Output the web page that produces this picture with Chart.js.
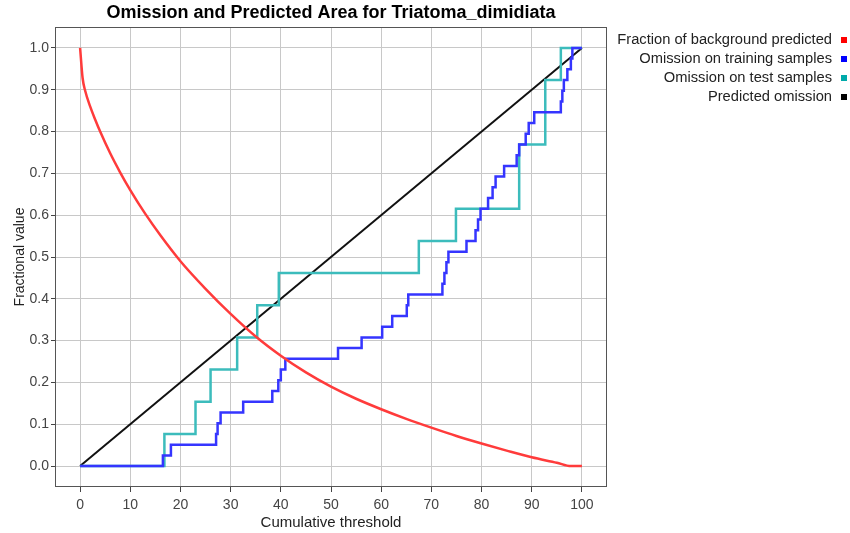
<!DOCTYPE html>
<html>
<head>
<meta charset="utf-8">
<script src="https://cdn.jsdelivr.net/npm/chart.js@4/dist/chart.umd.min.js"></script>
<style>
  html, body { margin: 0; padding: 0; background: #fff; }
  #wrap { width: 850px; height: 533px; }
</style>
</head>
<body>
<div id="wrap"><canvas id="omissionChart" width="850" height="533"></canvas></div>
<script>
// Axis ticks
const xTicks = [0, 10, 20, 30, 40, 50, 60, 70, 80, 90, 100];
const yTicks = [0.0, 0.1, 0.2, 0.3, 0.4, 0.5, 0.6, 0.7, 0.8, 0.9, 1.0];

// Fraction of background predicted
const bgThreshold = [0, 0.5, 1, 2, 3, 4, 6, 8, 10, 13, 16, 20, 25, 30, 35, 40, 45, 50, 55, 60, 65, 70, 75, 80, 85, 90, 95, 97.8, 100];
const bgFraction = [1.0, 0.928, 0.898, 0.860, 0.829, 0.800, 0.748, 0.702, 0.660, 0.603, 0.552, 0.490, 0.424, 0.364, 0.310, 0.264, 0.224, 0.190, 0.161, 0.136, 0.113, 0.092, 0.072, 0.054, 0.037, 0.021, 0.008, 0.0, 0.0];

// Omission on training samples
const trainThreshold = [0, 16.5, 18.1, 27.1, 27.4, 28.0, 32.5, 38.3, 39.5, 40.0, 40.9, 51.4, 56.1, 60.2, 62.2, 65.1, 65.4, 72.2, 72.6, 73.0, 73.4, 77.0, 78.8, 79.3, 79.8, 81.3, 82.2, 82.8, 84.5, 87.0, 87.5, 88.8, 89.4, 90.5, 95.8, 96.1, 96.4, 97.1, 97.8, 98.1, 100];
const trainOmission = [0, 0.0256, 0.0513, 0.0769, 0.1026, 0.1282, 0.1538, 0.1795, 0.2051, 0.2308, 0.2564, 0.2821, 0.3077, 0.3333, 0.3590, 0.3846, 0.4103, 0.4359, 0.4615, 0.4872, 0.5128, 0.5385, 0.5641, 0.5897, 0.6154, 0.6410, 0.6667, 0.6923, 0.7179, 0.7436, 0.7692, 0.7949, 0.8205, 0.8462, 0.8718, 0.8974, 0.9231, 0.9487, 0.9744, 1.0, 1.0];

// Omission on test samples
const testThreshold = [0, 16.8, 23.0, 26.0, 31.3, 35.3, 39.6, 67.5, 74.9, 87.5, 92.7, 95.8, 100];
const testOmission = [0, 0.0769, 0.1538, 0.2308, 0.3077, 0.3846, 0.4615, 0.5385, 0.6154, 0.7692, 0.9231, 1.0, 1.0];

// Predicted omission
const predThreshold = [0, 100];
const predOmission = [0, 1];

const FONT = '"Liberation Sans", Arial, sans-serif';

function toPoints(xs, ys) {
  return xs.map((x, i) => ({ x: x, y: ys[i] }));
}

// Legend on the right: text right-aligned, colour square after it
const sideLegend = {
  id: 'sideLegend',
  afterDraw(chart) {
    const ctx = chart.ctx;
    ctx.save();
    ctx.font = '14.7px ' + FONT;
    ctx.textAlign = 'right';
    ctx.textBaseline = 'middle';
    chart.data.datasets.forEach((ds, i) => {
      const y = 40 + i * 19;
      ctx.fillStyle = '#222';
      ctx.fillText(ds.label, 832, y);
      ctx.fillStyle = ds.legendColor;
      ctx.fillRect(841, y - 3, 6, 6);
    });
    ctx.restore();
  }
};

// Dark frame round the plot area
const plotFrame = {
  id: 'plotFrame',
  afterDraw(chart) {
    const a = chart.chartArea;
    const ctx = chart.ctx;
    ctx.save();
    ctx.strokeStyle = '#555';
    ctx.lineWidth = 1;
    ctx.strokeRect(Math.round(a.left) + 0.5, Math.round(a.top) + 0.5,
      Math.round(a.right - a.left) - 1, Math.round(a.bottom - a.top) - 1);
    ctx.restore();
  }
};

const ctx = document.getElementById('omissionChart').getContext('2d');
new Chart(ctx, {
  type: 'line',
  data: {
    datasets: [
      {
        label: 'Fraction of background predicted',
        data: toPoints(bgThreshold, bgFraction),
        borderColor: '#ff3b3b',
        legendColor: '#ff0000',
        borderWidth: 2.5,
        pointRadius: 0,
        cubicInterpolationMode: 'monotone',
      },
      {
        label: 'Omission on training samples',
        data: toPoints(trainThreshold, trainOmission),
        borderColor: '#3535ff',
        legendColor: '#0000ff',
        borderWidth: 2.5,
        pointRadius: 0,
        stepped: true,
      },
      {
        label: 'Omission on test samples',
        data: toPoints(testThreshold, testOmission),
        borderColor: '#3cbcbc',
        legendColor: '#00aaaa',
        borderWidth: 2.5,
        pointRadius: 0,
        stepped: true,
      },
      {
        label: 'Predicted omission',
        data: toPoints(predThreshold, predOmission),
        borderColor: '#111',
        legendColor: '#000',
        borderWidth: 2,
        pointRadius: 0,
      },
    ],
  },
  options: {
    responsive: false,
    animation: false,
    layout: { padding: { left: 0, right: 243, top: 0, bottom: 0 } },
    plugins: {
      legend: { display: false },
      tooltip: { enabled: false },
      title: {
        display: true,
        fullSize: false,
        text: 'Omission and Predicted Area for Triatoma_dimidiata',
        color: '#000',
        font: { family: FONT, size: 18, weight: 'bold', lineHeight: 1.2 },
        padding: { top: 2, bottom: 3.4 },
      },
    },
    scales: {
      x: {
        type: 'linear',
        min: -5,
        max: 105,
        afterBuildTicks: (scale) => { scale.ticks = xTicks.map(v => ({ value: v })); },
        afterFit: (scale) => { scale.height = 46; },
        grid: { color: '#c8c8c8', lineWidth: 1, tickColor: '#444', tickLength: 5 },
        border: { display: false },
        ticks: {
          color: '#444',
          font: { family: FONT, size: 14 },
          padding: 5,
          maxRotation: 0,
          callback: (v) => String(v),
        },
        title: {
          display: true,
          text: 'Cumulative threshold',
          color: '#222',
          font: { family: FONT, size: 15, lineHeight: 1.2 },
          padding: { top: 0, bottom: 1.5 },
        },
      },
      y: {
        type: 'linear',
        min: -0.05,
        max: 1.05,
        afterBuildTicks: (scale) => { scale.ticks = yTicks.map(v => ({ value: v })); },
        afterFit: (scale) => { scale.width = 55; },
        grid: { color: '#c8c8c8', lineWidth: 1, tickColor: '#444', tickLength: 4 },
        border: { display: false },
        ticks: {
          color: '#444',
          font: { family: FONT, size: 14 },
          padding: 2,
          callback: (v) => Number(v).toFixed(1),
        },
        title: {
          display: true,
          text: 'Fractional value',
          color: '#222',
          font: { family: FONT, size: 14, lineHeight: 1.2 },
          padding: { top: 12, bottom: 0 },
        },
      },
    },
  },
  plugins: [sideLegend, plotFrame],
});
</script>
</body>
</html>
